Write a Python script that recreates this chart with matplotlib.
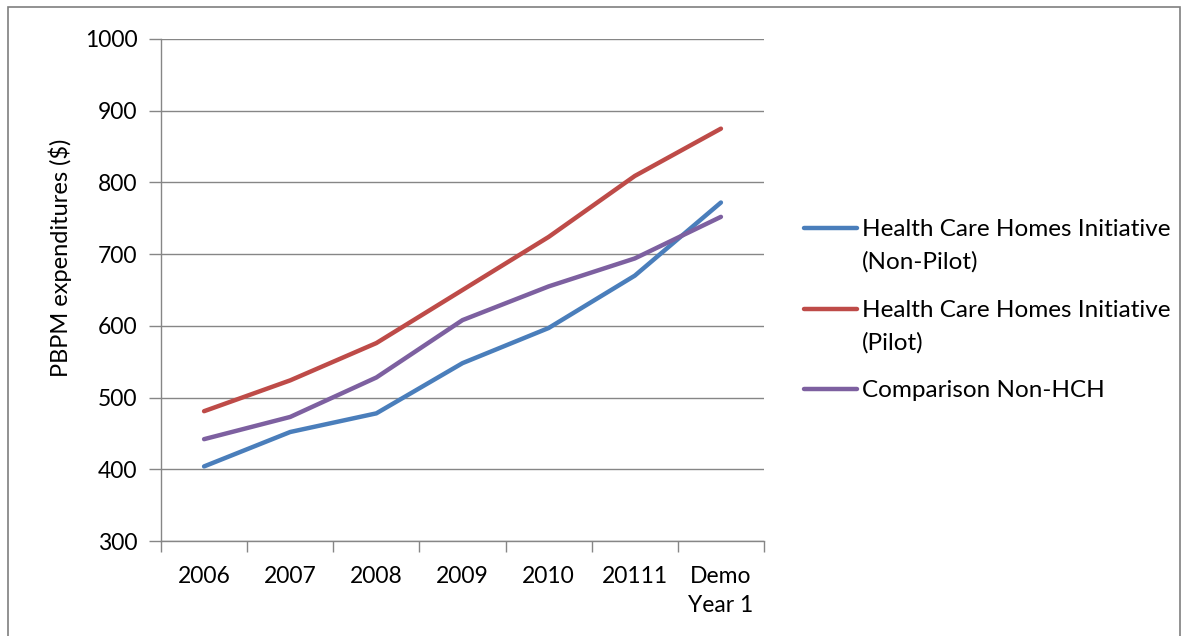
import matplotlib
matplotlib.use("Agg")
import matplotlib.pyplot as plt
from matplotlib.lines import Line2D
from matplotlib.patches import Rectangle

categories = ["2006", "2007", "2008", "2009", "2010", "20111", "Demo\nYear 1"]
non_pilot = [404, 452, 478, 548, 597, 670, 772]
pilot = [481, 524, 576, 650, 724, 809, 875]
comparison = [442, 473, 528, 608, 655, 694, 752]
series_names = ["Health Care Homes Initiative\n(Non-Pilot)",
                "Health Care Homes Initiative\n(Pilot)",
                "Comparison Non-HCH"]
colors = ["#4A7EBB", "#BE4B48", "#7D60A0"]
y_ticks = [300, 400, 500, 600, 700, 800, 900, 1000]

plt.rcParams['font.family'] = ['Lato', 'DejaVu Sans']

W, H = 1188, 636
fig = plt.figure(figsize=(W / 100, H / 100), dpi=100)
ax = fig.add_axes([161 / W, 1 - 541 / H, (764 - 161) / W, (541 - 39) / H])

grid_c = "#868686"
x = list(range(len(categories)))
for vals, c in zip([non_pilot, pilot, comparison], colors):
    ax.plot(x, vals, color=c, lw=3.2, solid_capstyle="round", solid_joinstyle="round", zorder=3)

ax.set_xlim(-0.5, len(categories) - 0.5)
ax.set_ylim(300, 1000)
ax.set_yticks(y_ticks)
ax.set_yticklabels([str(v) for v in y_ticks], fontsize=16.5)
ax.yaxis.grid(True, color=grid_c, lw=1)
ax.set_axisbelow(True)
ax.set_xticks(x)
ax.set_xticklabels(categories, fontsize=16.5, linespacing=1.45, va="top")
ax.set_xticks([i - 0.5 for i in range(len(categories) + 1)], minor=True)
ax.tick_params(axis="x", which="major", length=0, pad=18)
ax.tick_params(axis="x", which="minor", length=8, color=grid_c, width=1, direction="out")
ax.tick_params(axis="y", length=9, color=grid_c, width=1, direction="out", pad=8)
for s in ["top", "right"]:
    ax.spines[s].set_visible(False)
for s in ["left", "bottom"]:
    ax.spines[s].set_color(grid_c)
    ax.spines[s].set_linewidth(1)

fig.text(60 / W, 1 - 258 / H, "PBPM expenditures ($)", rotation=90,
         ha="center", va="center", fontsize=17)

# legend
leg_y = [228, 309, 389]
for name, c, yy in zip(series_names, colors, leg_y):
    fig.add_artist(Line2D([804 / W, 857 / W], [1 - yy / H, 1 - yy / H], color=c, lw=3.2,
                          solid_capstyle="round"))
    fig.text(862 / W, 1 - (yy - 9) / H, name, ha="left", va="top", fontsize=17.5,
             linespacing=1.65)

fig.add_artist(Rectangle((8 / W, -0.05), (1180 - 8) / W, 1 - 7 / H + 0.05,
                         transform=fig.transFigure, fill=False, edgecolor="#7f7f7f", lw=1.2))

fig.savefig("out.png", dpi=100)
